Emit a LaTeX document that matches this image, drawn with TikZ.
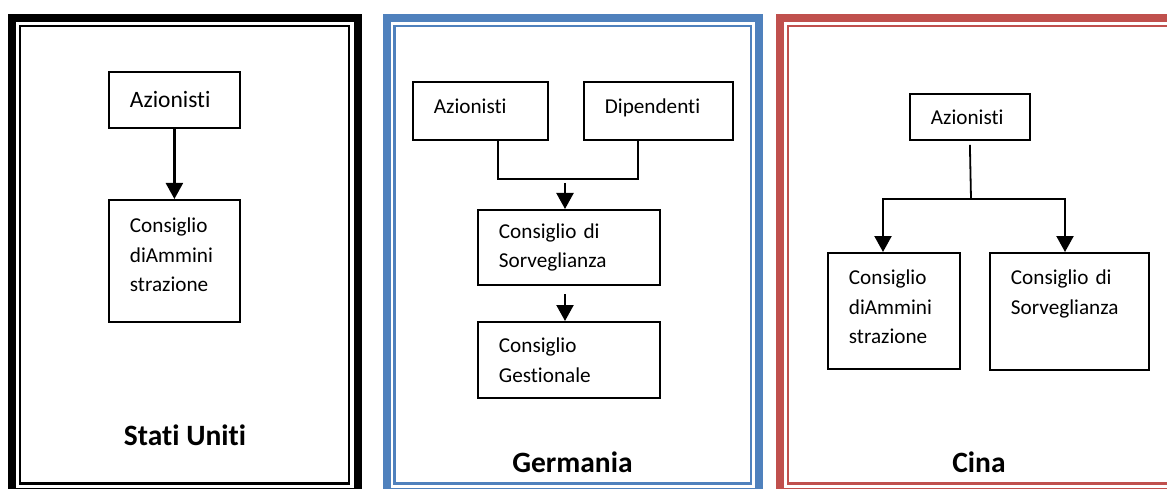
\documentclass[tikz,border=0pt]{standalone}
\usepackage{fontspec}
\setmainfont[Ligatures=NoCommon]{Carlito}
\usepackage{tikz}
\usetikzlibrary{arrows.meta, calc}
\definecolor{bluword}{HTML}{4F81BD}
\definecolor{rossoword}{HTML}{C0504D}
\tikzstyle{arrow} = [line width=2.2pt,-{Triangle[width=17pt,length=16pt]}]
\tikzstyle{linea} = [line width=1.8pt]
\tikzstyle{bordo} = [line width=8pt]
\tikzstyle{filetto} = [line width=2.4pt]

\begin{document}
\begin{tikzpicture}[
			x = 1pt, y = -1pt,
			every node/.style = {font = \fontsize{21.2}{29.8}\selectfont},
			blocco/.style = {draw, line width=1.8pt, align=left, inner xsep=21pt, inner ysep=0pt, anchor=north west},
			titolo/.style = {font = \fontsize{29.5}{34}\selectfont\bfseries, anchor=base}
		]
		\useasboundingbox (0,0) rectangle (1167,489);

		% cornici
		\draw[bordo] (11.7,18.3) rectangle (357.5,492);
		\draw[filetto] (20,25.8) rectangle (349.2,483.5);
		\draw[bordo, bluword] (386.5,18.3) rectangle (758.5,492);
		\draw[filetto, bluword] (394.5,26) rectangle (751,483.5);
		\draw[bordo, rossoword] (780,18.3) rectangle (1185,492);
		\draw[filetto, rossoword] (788,26) rectangle (1176,483.5);

		% Stati Uniti
		\node[blocco, text width=89pt, minimum height=56pt, font=\fontsize{23.5}{29.8}\selectfont] (az1) at (108,71) {Azionisti};
		\node[blocco, text width=89pt, minimum height=122pt, text depth=72pt] (cda1) at (108,199) {Consiglio\\diAmmini\\strazione};
		\draw[arrow] (az1) -- (cda1);
		\node[titolo] (us) at (185,445.5) {Stati Uniti};

		% Germania
		\node[blocco, text width=93pt, minimum height=58pt, text depth=10pt] (az2) at (412,81) {Azionisti};
		\node[blocco, text width=107pt, minimum height=58pt, text depth=10pt] (dip2) at (583,81) {Dipendenti};
		\node[blocco, text width=140pt, minimum height=75pt] (cds2) at (477,209) {Consiglio di\\Sorveglianza};
		\node[blocco, text width=140pt, minimum height=76pt] (ges2) at (477,321) {Consiglio\\Gestionale};
		\draw[linea] ([xshift=17.5pt]az2.south) -- ++(0,38) -| ([xshift=-20.5pt]dip2.south);
		\coordinate (p2) at (565,183);
		\coordinate (q2) at (565,294);
		\draw[arrow] (p2) -- (p2 |- cds2.north);
		\draw[arrow] (q2) -- (q2 |- ges2.north);
		\node[titolo] (de) at (572.5,472) {Germania};

		% Cina
		\node[blocco, text width=78pt, minimum height=46pt] (az3) at (909,93) {Azionisti};
		\node[blocco, text width=90pt, minimum height=116pt, text depth=68pt] (cda3) at (827,252) {Consiglio\\diAmmini\\strazione};
		\node[blocco, text width=117pt, minimum height=117pt] (cds3) at (989,252) {Consiglio di\\Sorveglianza\\\strut};
		\coordinate (biv3) at (971,199);
		\coordinate (sx3) at (883,199);
		\coordinate (dx3) at (1065,199);
		\draw[linea] ([yshift=-4pt]az3.south) -- (biv3);
		\draw[arrow] (biv3) -- (sx3) -- (sx3 |- cda3.north);
		\draw[arrow] (biv3) -- (dx3) -- (dx3 |- cds3.north);
		\node[titolo] (cn) at (979,472.5) {Cina};
\end{tikzpicture}
\end{document}
